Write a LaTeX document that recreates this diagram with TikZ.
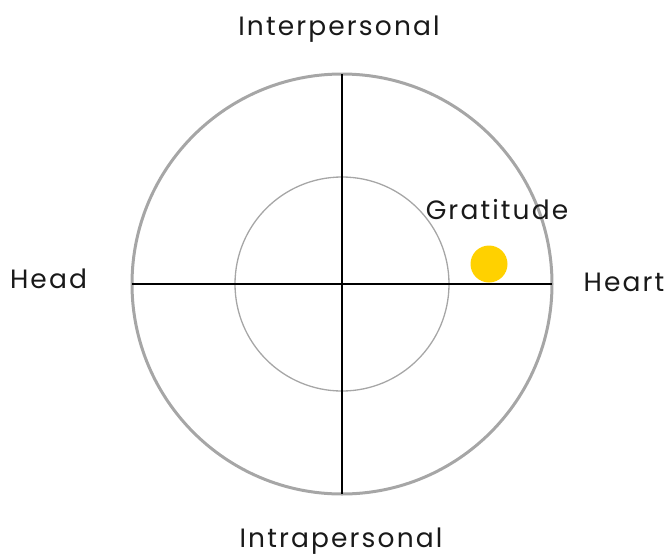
\documentclass[tikz,border=0pt]{standalone}
\usepackage{fontspec}
\setmainfont{Poppins}[LetterSpace=8]
\usetikzlibrary{positioning}
\definecolor{dotyellow}{HTML}{FFD100}
\begin{document}
\begin{tikzpicture}[x=1pt,y=-1pt,ring/.style={circle,draw=black!35,fill=none,inner sep=0pt,outer sep=0pt},axis/.style={draw=black,line width=1.6pt},lbl/.style={font=\fontsize{26.5}{30}\selectfont,text=black!90,inner sep=0pt,anchor=base}]
\useasboundingbox (0,0) rectangle (667,555);
\node[ring,line width=3pt,minimum size=420pt] (outer) at (342,284) {};
\node[ring,line width=1.3pt,minimum size=214pt] (inner) at (342,284) {};
\draw[axis](outer.north)--(outer.south);\draw[axis](outer.west)--(outer.east);
\node[circle,fill=dotyellow,inner sep=0pt,minimum size=37pt] (gratdot) at (489,264) {};
\node[lbl] (interp) at (339,35) {Interpersonal};
\node[lbl] (intrap) at (341,547) {Intrapersonal};
\node[lbl] (head) at (48.5,288) {Head};
\node[lbl] (heart) at (624,291) {Heart};
\node[lbl] (grat) at (497,219) {Gratitude};
\end{tikzpicture}
\end{document}
